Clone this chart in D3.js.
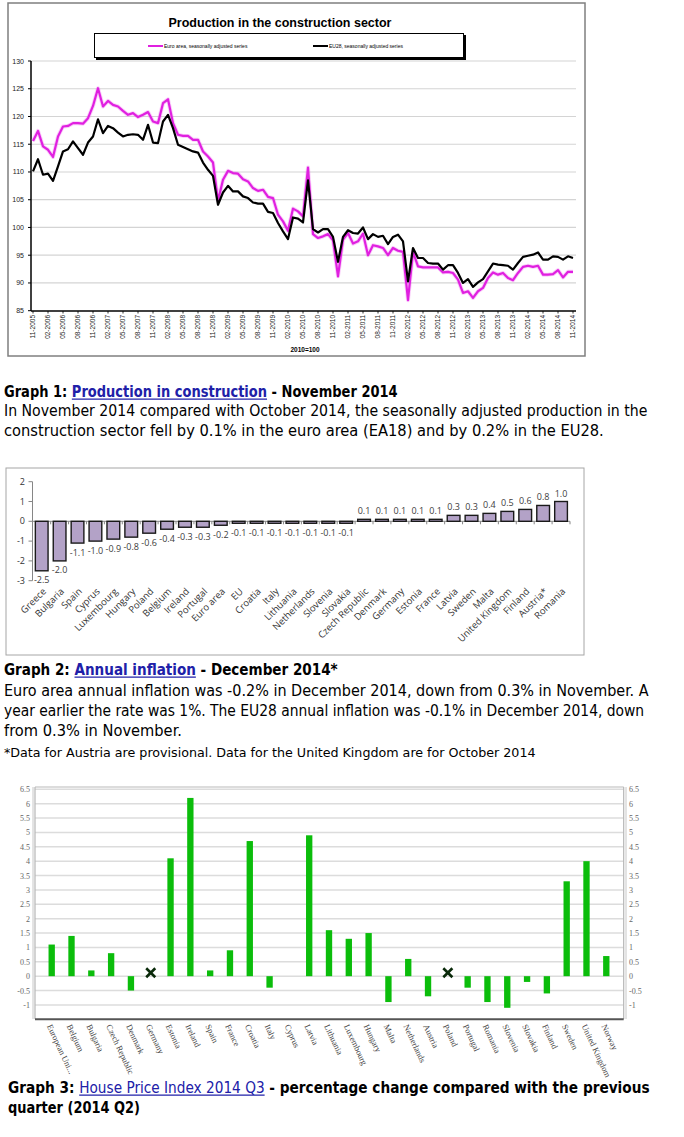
<!DOCTYPE html>
<html><head><meta charset="utf-8">
<script src="https://cdn.jsdelivr.net/npm/d3@7"></script>
<style>body{margin:0;background:#fff}svg{display:block}</style>
</head><body>
<svg id="c" width="684" height="1137"></svg>
<script>
// ---------- Graph 1 data: Production in construction (2010=100), monthly 11-2005 .. 11-2014
const prodTickLabels = ["11-2005","02-2006","05-2006","08-2006","11-2006","02-2007","05-2007","08-2007","11-2007",
"02-2008","05-2008","08-2008","11-2008","02-2009","05-2009","08-2009","11-2009","02-2010","05-2010","08-2010","11-2010",
"02-2011","05-2011","08-2011","11-2011","02-2012","05-2012","08-2012","11-2012","02-2013","05-2013","08-2013","11-2013",
"02-2014","05-2014","08-2014","11-2014"];
const euroArea = [115.6,117.4,114.6,114.0,112.7,116.4,118.2,118.3,118.8,118.8,118.7,119.7,121.9,125.1,121.8,122.8,122.1,121.8,
121.0,120.3,120.6,119.9,120.3,120.8,119.1,118.8,122.4,123.1,118.8,116.7,116.5,116.5,115.8,115.8,113.7,112.8,111.7,104.8,
108.6,110.2,109.8,109.7,108.7,108.3,107.1,106.6,106.8,105.5,105.3,102.3,101.1,99.4,103.4,102.9,102.0,110.8,98.8,98.1,98.4,
98.8,97.7,91.2,97.8,99.0,97.1,97.5,98.9,95.0,96.8,96.6,96.3,95.0,96.3,95.8,95.6,86.9,95.6,93.0,92.8,92.8,92.8,92.8,91.9,
92.0,91.8,90.6,88.2,88.5,87.3,88.5,89.1,90.9,91.9,91.5,91.8,90.9,90.5,91.8,92.9,93.1,92.9,93.1,91.5,91.5,91.6,92.3,91.0,92.0,92.0];
const eu28 = [110.1,112.3,109.5,109.7,108.4,111.0,113.7,114.1,115.5,114.3,113.1,115.3,116.4,119.5,117.0,118.3,117.9,117.1,
116.4,116.7,116.8,116.7,115.8,118.5,115.3,115.2,119.1,120.3,117.9,114.9,114.5,114.1,113.7,113.5,111.7,110.4,109.3,104.1,
106.3,107.5,106.5,106.5,105.6,105.3,104.5,104.3,104.3,102.8,102.6,100.8,99.3,97.9,101.8,101.6,100.9,108.5,99.7,99.1,99.7,
99.7,98.3,93.8,98.3,99.5,99.0,98.9,100.0,97.9,98.8,98.3,98.5,97.0,98.3,98.7,97.5,90.3,96.3,94.5,94.5,93.6,93.5,93.5,92.4,
93.2,93.2,91.8,90.0,90.7,89.3,90.1,90.7,92.1,93.5,93.3,93.2,93.1,92.4,93.6,94.7,94.9,95.1,95.5,94.2,94.2,94.8,94.7,94.2,94.8,94.5];
const prodYTicks = [85,90,95,100,105,110,115,120,125,130];

// ---------- Graph 2 data: Annual inflation December 2014
const inflCountries = ["Greece","Bulgaria","Spain","Cyprus","Luxembourg","Hungary","Poland","Belgium","Ireland","Portugal",
"Euro area","EU","Croatia","Italy","Lithuania","Netherlands","Slovenia","Slovakia","Czech Republic","Denmark","Germany",
"Estonia","France","Latvia","Sweden","Malta","United Kingdom","Finland","Austria*","Romania"];
const inflValues = [-2.5,-2.0,-1.1,-1.0,-0.9,-0.8,-0.6,-0.4,-0.3,-0.3,-0.2,-0.1,-0.1,-0.1,-0.1,-0.1,-0.1,-0.1,
0.1,0.1,0.1,0.1,0.1,0.3,0.3,0.4,0.5,0.6,0.8,1.0];
const inflYTicks = [-3,-2,-1,0,1,2];

// ---------- Graph 3 data: House price index 2014 Q3, % change on previous quarter
const hpiCountries = ["European Uni...","Belgium","Bulgaria","Czech Republic","Denmark","Germany","Estonia","Ireland","Spain",
"France","Croatia","Italy","Cyprus","Latvia","Lithuania","Luxembourg","Hungary","Malta","Netherlands","Austria","Poland",
"Portugal","Romania","Slovenia","Slovakia","Finland","Sweden","United Kingdom","Norway"];
const hpiValues = [1.1,1.4,0.2,0.8,-0.5,null,4.1,6.2,0.2,0.9,4.7,-0.4,0,4.9,1.6,1.3,1.5,-0.9,0.6,-0.7,null,-0.4,-0.9,-1.1,-0.2,-0.6,3.3,4.0,0.7];
const hpiNotAvailable = ["Germany","Poland"];
const hpiYTicks = [-1,-0.5,0,0.5,1,1.5,2,2.5,3,3.5,4,4.5,5,5.5,6,6.5];

const svg = d3.select("#c");
const SANS = "'Liberation Sans', Arial, sans-serif";

// ================= GRAPH 1 =================
const g1 = svg.append("g");
g1.append("rect").attr("x",8).attr("y",3).attr("width",577).attr("height",353)
  .attr("fill","#fff").attr("stroke","#7f7f7f").attr("stroke-width",1.5);
g1.append("text").attr("x",280).attr("y",27).attr("text-anchor","middle")
  .style("font",`bold 12.5px ${SANS}`).text("Production in the construction sector");
// legend
g1.append("rect").attr("x",96).attr("y",35).attr("width",370).attr("height",25).attr("fill","#000");
g1.append("rect").attr("x",94.5).attr("y",33.5).attr("width",369).attr("height",24).attr("fill","#fff").attr("stroke","#000").attr("stroke-width",1);
const legendItems = [{name:"Euro area, seasonally adjusted series", color:"#e020e0", x:148},
                     {name:"EU28, seasonally adjusted series", color:"#000", x:313}];
legendItems.forEach(d=>{
  g1.append("line").attr("x1",d.x).attr("x2",d.x+15).attr("y1",46).attr("y2",46).attr("stroke",d.color).attr("stroke-width",2);
  g1.append("text").attr("x",d.x+16).attr("y",47.8).style("font",`5px ${SANS}`).text(d.name);
});
const x1 = d3.scaleLinear().domain([0, euroArea.length-1]).range([33,573]);
const y1 = d3.scaleLinear().domain([85,130]).range([310.7,61]);
g1.selectAll("line.grid").data(prodYTicks.filter(v=>v>85)).join("line").attr("class","grid")
  .attr("x1",31).attr("x2",576).attr("y1",d=>y1(d)).attr("y2",d=>y1(d)).attr("stroke","#d4d4d4").attr("stroke-width",1.2);
g1.selectAll("text.yl").data(prodYTicks).join("text").attr("class","yl")
  .attr("x",24).attr("y",d=>y1(d)+2.5).attr("text-anchor","end").style("font",`7px ${SANS}`).attr("fill","#222").text(d=>d);
g1.selectAll("line.yt").data(prodYTicks).join("line").attr("class","yt")
  .attr("x1",28).attr("x2",31).attr("y1",d=>y1(d)).attr("y2",d=>y1(d)).attr("stroke","#000");
g1.append("line").attr("x1",31).attr("x2",31).attr("y1",61).attr("y2",311).attr("stroke","#000").attr("stroke-width",1.5);
g1.append("line").attr("x1",31).attr("x2",576).attr("y1",311).attr("y2",311).attr("stroke","#000").attr("stroke-width",1.5);
g1.selectAll("text.xl").data(prodTickLabels).join("text").attr("class","xl")
  .attr("transform",(d,i)=>`translate(${x1(i*3)},315) rotate(-90)`).attr("text-anchor","end").attr("dy","0.35em")
  .style("font",`6.5px ${SANS}`).attr("fill","#222").text(d=>d);
g1.selectAll("line.xt").data(prodTickLabels).join("line").attr("class","xt")
  .attr("x1",(d,i)=>x1(i*3)).attr("x2",(d,i)=>x1(i*3)).attr("y1",311).attr("y2",313.5).attr("stroke","#000").attr("stroke-width",0.8);
const line1 = d3.line().x((d,i)=>x1(i)).y(d=>y1(d));
g1.append("path").datum(euroArea).attr("d",line1).attr("fill","none").attr("stroke","#f070f0").attr("stroke-width",4).attr("stroke-opacity",0.35).attr("stroke-linejoin","round");
g1.append("path").datum(euroArea).attr("d",line1).attr("fill","none").attr("stroke","#e020e0").attr("stroke-width",2.2).attr("stroke-linejoin","round");
g1.append("path").datum(eu28).attr("d",line1).attr("fill","none").attr("stroke","#000").attr("stroke-width",2.2).attr("stroke-linejoin","round");
g1.append("text").attr("x",305).attr("y",352).attr("text-anchor","middle").style("font",`bold 6.5px ${SANS}`).text("2010=100");

// ================= GRAPH 2 =================
const g2 = svg.append("g");
g2.append("rect").attr("x",6).attr("y",468).attr("width",578).attr("height",187).attr("fill","#fff").attr("stroke","#a6a6a6").attr("stroke-width",1);
const x2 = d3.scaleBand().domain(inflCountries).range([32.75,570]).paddingInner(0.29).paddingOuter(0.145);
const y2 = d3.scaleLinear().domain([-3,2]).range([580.7,481.7]);
const OS = "'Open Sans', 'DejaVu Sans', sans-serif";
g2.append("line").attr("x1",32.5).attr("x2",32.5).attr("y1",y2(2)).attr("y2",y2(-3)).attr("stroke","#868686");
g2.selectAll("line.yt").data(inflYTicks).join("line").attr("class","yt")
  .attr("x1",28.5).attr("x2",32.5).attr("y1",d=>y2(d)).attr("y2",d=>y2(d)).attr("stroke","#868686");
g2.selectAll("text.yl").data(inflYTicks).join("text").attr("class","yl")
  .attr("x",25).attr("y",d=>y2(d)+3).attr("text-anchor","end").style("font",`9px ${OS}`).attr("fill","#333").text(d=>d);
g2.append("line").attr("x1",32.5).attr("x2",570).attr("y1",y2(0)).attr("y2",y2(0)).attr("stroke","#868686");
g2.selectAll("line.zt").data(inflCountries).join("line").attr("class","zt")
  .attr("x1",d=>x2(d)+x2.bandwidth()+x2.step()*0.145).attr("x2",d=>x2(d)+x2.bandwidth()+x2.step()*0.145)
  .attr("y1",y2(0)).attr("y2",y2(0)+3).attr("stroke","#868686");
g2.selectAll("rect.bar").data(inflValues).join("rect").attr("class","bar")
  .attr("x",(d,i)=>x2(inflCountries[i])).attr("width",x2.bandwidth())
  .attr("y",d=>y2(Math.max(0,d))).attr("height",d=>Math.abs(y2(d)-y2(0)))
  .attr("fill","#b3a2c7").attr("stroke","#1a1a1a").attr("stroke-width",1.4);
g2.selectAll("text.vl").data(inflValues).join("text").attr("class","vl")
  .attr("x",(d,i)=>x2(inflCountries[i])+x2.bandwidth()/2)
  .attr("y",d=>d<0? y2(d)+12.5 : y2(d)-5).attr("text-anchor","middle")
  .style("font",`9px ${OS}`).attr("fill","#404040").text(d=>d.toFixed(1));
g2.selectAll("text.cl").data(inflCountries).join("text").attr("class","cl")
  .attr("transform",d=>`translate(${x2(d)+x2.bandwidth()/2+5},592) rotate(-45)`).attr("text-anchor","end")
  .style("font",`9.5px ${OS}`).attr("fill","#333").text(d=>d);

// ================= GRAPH 3 =================
const g3 = svg.append("g");
const SERIF = "'Liberation Serif', 'DejaVu Serif', serif";
const x3 = d3.scaleBand().domain(hpiCountries).range([41.8,616.2]).paddingInner(0.68).paddingOuter(0.34);
const y3 = d3.scaleLinear().domain([-1.5,6.5]).range([1019.3,789.3]);
g3.selectAll("line.grid").data(hpiYTicks).join("line").attr("class","grid")
  .attr("x1",35).attr("x2",623.7).attr("y1",d=>y3(d)).attr("y2",d=>y3(d)).attr("stroke","#dcdcdc").attr("stroke-width",1.6);
g3.append("line").attr("x1",35).attr("x2",623.7).attr("y1",787).attr("y2",787).attr("stroke","#d0d0d0").attr("stroke-width",1.5);
g3.append("line").attr("x1",35).attr("x2",35).attr("y1",787).attr("y2",1019).attr("stroke","#b5b5b5").attr("stroke-width",1.2);
g3.append("line").attr("x1",623.7).attr("x2",623.7).attr("y1",787).attr("y2",1019).attr("stroke","#b5b5b5").attr("stroke-width",1.2);
g3.append("line").attr("x1",33).attr("x2",33).attr("y1",787).attr("y2",1019).attr("stroke","#c8c8c8").attr("stroke-width",1);
g3.append("line").attr("x1",626).attr("x2",626).attr("y1",787).attr("y2",1019).attr("stroke","#c8c8c8").attr("stroke-width",1);
g3.selectAll("text.yl").data(hpiYTicks).join("text").attr("class","yl")
  .attr("x",30).attr("y",d=>y3(d)+3).attr("text-anchor","end").style("font",`8px ${SERIF}`).attr("fill","#666").text(d=>d);
g3.selectAll("text.yr").data(hpiYTicks).join("text").attr("class","yr")
  .attr("x",629).attr("y",d=>y3(d)+3).attr("text-anchor","start").style("font",`8px ${SERIF}`).attr("fill","#666").text(d=>d);
const hpiRows = hpiCountries.map((c,i)=>({c, v:hpiValues[i]})).filter(r=>r.v!==null);
g3.selectAll("rect.bar").data(hpiRows).join("rect").attr("class","bar")
  .attr("x",r=>x3(r.c)).attr("width",x3.bandwidth())
  .attr("y",r=>y3(Math.max(0,r.v))).attr("height",r=>Math.abs(y3(r.v)-y3(0)))
  .attr("fill","#0bbd0b");
const xSym = d3.symbol().type(d3.symbolX || d3.symbolTimes).size(55);
g3.selectAll("path.na").data(hpiNotAvailable).join("path").attr("class","na")
  .attr("transform",d=>`translate(${x3(d)+x3.bandwidth()/2},${y3(0.12)})`).attr("d",xSym)
  .attr("fill","none").attr("stroke","#0a2a0a").attr("stroke-width",2.6);
g3.append("line").attr("x1",35).attr("x2",623.7).attr("y1",1019.3).attr("y2",1019.3).attr("stroke","#555").attr("stroke-width",2);
g3.selectAll("text.cl").data(hpiCountries).join("text").attr("class","cl")
  .attr("transform",d=>`translate(${x3(d)+x3.bandwidth()/2-5},1026) rotate(65)`).attr("text-anchor","start")
  .style("font",`8.5px ${SERIF}`).attr("fill","#444").text(d=>d);

// ================= CAPTIONS =================
const CAP = "'DejaVu Sans Condensed', 'DejaVu Sans', sans-serif";
const LINK = "#2020a8";
function caption(x, y, width, size, segs){
  const g = svg.append("g");
  const t = g.append("text").attr("x",0).attr("y",0).style("font-family",CAP).style("font-size",size+"px");
  const spans = segs.map(s=> t.append("tspan").text(s.t).attr("fill", s.link?LINK:"#000").style("font-weight", s.bold?"bold":"normal"));
  const natural = t.node().getComputedTextLength();
  const k = width / natural;
  g.attr("transform",`translate(${x},${y}) scale(${k},1)`);
  let pos = 0;
  segs.forEach((s,i)=>{
    const w = spans[i].node().getComputedTextLength();
    if (s.link){
      g.append("line").attr("x1",pos).attr("x2",pos+w).attr("y1",2.2).attr("y2",2.2).attr("stroke",LINK).attr("stroke-width",1.2);
    }
    pos += w;
  });
}
caption(4,397,394,15,[{t:"Graph 1: ",bold:1},{t:"Production in construction",bold:1,link:1},{t:" - November 2014",bold:1}]);
caption(4,416,644,15,[{t:"In November 2014 compared with October 2014, the seasonally adjusted production in the"}]);
caption(4,436,600,15,[{t:"construction sector fell by 0.1% in the euro area (EA18) and by 0.2% in the EU28."}]);
caption(4,675,334,15,[{t:"Graph 2: ",bold:1},{t:"Annual inflation",bold:1,link:1},{t:" - December 2014*",bold:1}]);
caption(4,696,645,15,[{t:"Euro area annual inflation was -0.2% in December 2014, down from 0.3% in November. A"}]);
caption(4,716,641,15,[{t:"year earlier the rate was 1%. The EU28 annual inflation was -0.1% in December 2014, down"}]);
caption(4,736,178,15,[{t:"from 0.3% in November."}]);
caption(4,757,532,12.5,[{t:"*Data for Austria are provisional. Data for the United Kingdom are for October 2014"}]);
caption(8,1093,642,15,[{t:"Graph 3:  ",bold:1},{t:"House Price Index 2014 Q3",link:1},{t:" - percentage change compared with the previous",bold:1}]);
caption(8,1113,132,15,[{t:"quarter (2014 Q2)",bold:1}]);
</script>
</body></html>
